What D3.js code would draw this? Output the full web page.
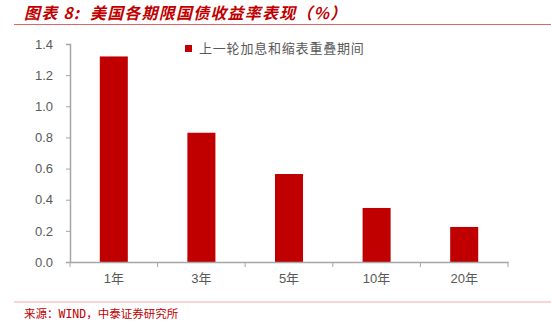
<!DOCTYPE html>
<html lang="zh">
<head>
<meta charset="utf-8">
<script src="https://d3js.org/d3.v7.min.js"></script>
<style>
  body { margin: 0; background: #fff; }
  text { font-family: "Liberation Sans", "Noto Sans CJK SC", sans-serif; white-space: pre; }
</style>
</head>
<body>
<svg width="551" height="326"></svg>
<script>
// data
var categories = ["1年", "3年", "5年", "10年", "20年"];
var values = [1.32, 0.83, 0.565, 0.347, 0.225];
var yTicks = [0, 0.2, 0.4, 0.6, 0.8, 1.0, 1.2, 1.4];
var seriesName = "上一轮加息和缩表重叠期间";

var svg = d3.select("svg");
var red = "#c00000";

// title
svg.append("text")
    .attr("x", 24).attr("y", 19)
    .attr("fill", red)
    .attr("font-size", 16)
    .attr("font-weight", "bold")
    .attr("font-style", "italic")
    .attr("letter-spacing", 1.2)
    .style("font-family", "'Noto Sans CJK SC', sans-serif")
    .text("图表 8:  美国各期限国债收益率表现（%）");
svg.append("line")
    .attr("x1", 14).attr("x2", 551).attr("y1", 24.5).attr("y2", 24.5)
    .attr("stroke", "#e06666").attr("stroke-width", 1);

var mLeft = 70, mRight = 508, mTop = 44, mBottom = 262;

var x = d3.scaleBand().domain(categories).range([mLeft, mRight])
    .paddingInner(0.68).paddingOuter(0.34);
var y = d3.scaleLinear().domain([0, 1.4]).range([mBottom, mTop]);

// bars
svg.selectAll(".bar")
    .data(values)
    .enter().append("rect")
    .attr("class", "bar")
    .attr("x", function(d, i) { return x(categories[i]); })
    .attr("y", function(d) { return y(d); })
    .attr("width", x.bandwidth())
    .attr("height", function(d) { return mBottom - y(d); })
    .attr("fill", red);

// y axis
var yAxis = svg.append("g")
    .attr("transform", "translate(" + mLeft + ",0)")
    .call(d3.axisLeft(y).tickValues(yTicks).tickFormat(d3.format(".1f")).tickSizeOuter(0).tickSize(4).tickPadding(13));
// x axis
var xAxis = svg.append("g")
    .attr("transform", "translate(0," + mBottom + ")")
    .call(d3.axisBottom(x).tickSize(0).tickPadding(12).tickSizeOuter(0));

[yAxis, xAxis].forEach(function(g) {
  g.select(".domain").attr("stroke", "#a6a6a6").attr("stroke-width", 1.5);
  g.selectAll(".tick line").attr("stroke", "#a6a6a6");
  g.selectAll("text").attr("fill", "#595959").attr("font-size", 13)
    .style("font-family", "'Liberation Sans', 'Noto Sans CJK SC', sans-serif");
});

// category boundary ticks on the x axis
var edges = d3.range(categories.length + 1).map(function(i) { return mLeft + x.step() * i; });
xAxis.selectAll(".edge")
    .data(edges)
    .enter().append("line")
    .attr("class", "edge")
    .attr("x1", function(d) { return d; }).attr("x2", function(d) { return d; })
    .attr("y1", 0).attr("y2", 5)
    .attr("stroke", "#a6a6a6");

// legend
svg.append("rect")
    .attr("x", 185).attr("y", 45).attr("width", 7).attr("height", 7)
    .attr("fill", red);
svg.append("text")
    .attr("x", 199).attr("y", 53)
    .attr("fill", "#595959")
    .attr("font-size", 13)
    .attr("letter-spacing", 0.8)
    .style("font-family", "'Noto Sans CJK SC', sans-serif")
    .text(seriesName);

// footer
svg.append("line")
    .attr("x1", 14).attr("x2", 551).attr("y1", 302).attr("y2", 302)
    .attr("stroke", "#f4a7a7").attr("stroke-width", 1);
svg.append("text")
    .attr("x", 24).attr("y", 318)
    .attr("fill", red)
    .attr("font-size", 11.5)
    .style("font-family", "'DejaVu Sans Mono', 'Noto Sans CJK SC', monospace")
    .text("来源：WIND，中泰证券研究所");
</script>
</body>
</html>
